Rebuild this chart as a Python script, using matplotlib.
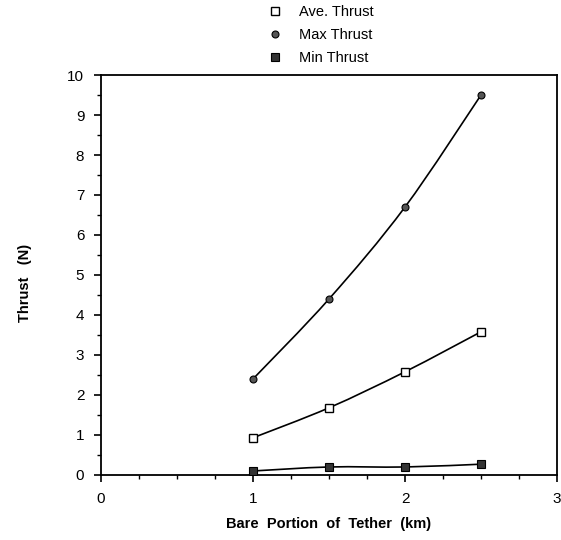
import matplotlib
matplotlib.use("Agg")
import matplotlib.pyplot as plt
from matplotlib.path import Path
from matplotlib.patches import PathPatch
from matplotlib.lines import Line2D
from matplotlib.ticker import MultipleLocator

plt.rcParams['font.family'] = ['Liberation Sans', 'DejaVu Sans']

# Thrust vs bare tether length
length_km = [1.0, 1.5, 2.0, 2.5]
ave_thrust = [0.93, 1.68, 2.58, 3.58]
max_thrust = [2.4, 4.4, 6.7, 9.5]
min_thrust = [0.1, 0.2, 0.2, 0.27]


def smooth_curve(ax, xs, ys, **kw):
    # Catmull-Rom spline through the points, drawn as cubic Bezier segments
    pts = list(zip(xs, ys))
    ext = [pts[0]] + pts + [pts[-1]]
    verts = [pts[0]]
    codes = [Path.MOVETO]
    for i in range(1, len(ext) - 2):
        p0, p1, p2, p3 = ext[i - 1], ext[i], ext[i + 1], ext[i + 2]
        c1 = (p1[0] + (p2[0] - p0[0]) / 6, p1[1] + (p2[1] - p0[1]) / 6)
        c2 = (p2[0] - (p3[0] - p1[0]) / 6, p2[1] - (p3[1] - p1[1]) / 6)
        verts += [c1, c2, p2]
        codes += [Path.CURVE4] * 3
    ax.add_patch(PathPatch(Path(verts, codes), fill=False, **kw))


fig = plt.figure(figsize=(5.61, 5.40), dpi=100)
ax = fig.add_axes([0.18, 0.1204, 0.8129, 0.7407])

series = [
    (ave_thrust, dict(marker='s', mfc='white', mec='black', ms=5.5, mew=1.0)),
    (max_thrust, dict(marker='o', mfc='#555555', mec='black', ms=5, mew=0.8)),
    (min_thrust, dict(marker='s', mfc='#333333', mec='black', ms=5.5, mew=0.8)),
]
for ys, mk in series:
    smooth_curve(ax, length_km, ys, edgecolor='black', lw=1.2, zorder=2)
    ax.plot(length_km, ys, linestyle='none', zorder=3, **mk)

ax.set_xlim(0, 3)
ax.set_ylim(0, 10)
ax.xaxis.set_major_locator(MultipleLocator(1))
ax.xaxis.set_minor_locator(MultipleLocator(0.25))
ax.yaxis.set_major_locator(MultipleLocator(1))
ax.yaxis.set_minor_locator(MultipleLocator(0.5))
ax.tick_params(which='major', direction='out', length=5, width=1.2, labelsize=11, pad=7)
ax.tick_params(which='minor', direction='out', length=3, width=1.0)
for s in ax.spines.values():
    s.set_linewidth(1.3)

ax.set_xlabel("Bare  Portion  of  Tether  (km)", fontsize=10.5, fontweight='bold', labelpad=8)
ax.set_ylabel("Thrust   (N)", fontsize=10.5, fontweight='bold')
ax.yaxis.set_label_coords(-0.152, 0.48)

handles = [Line2D([], [], linestyle='none', **series[0][1]),
           Line2D([], [], linestyle='none', **series[1][1]),
           Line2D([], [], linestyle='none', **series[2][1])]
fig.legend(handles, ["Ave. Thrust", "Max Thrust", "Min Thrust"],
           loc='upper left', bbox_to_anchor=(0.453, 1.015), frameon=False,
           fontsize=10.5, handlelength=1.0, handletextpad=1.2, labelspacing=0.62,
           numpoints=1)

fig.savefig("out.png", dpi=100)
